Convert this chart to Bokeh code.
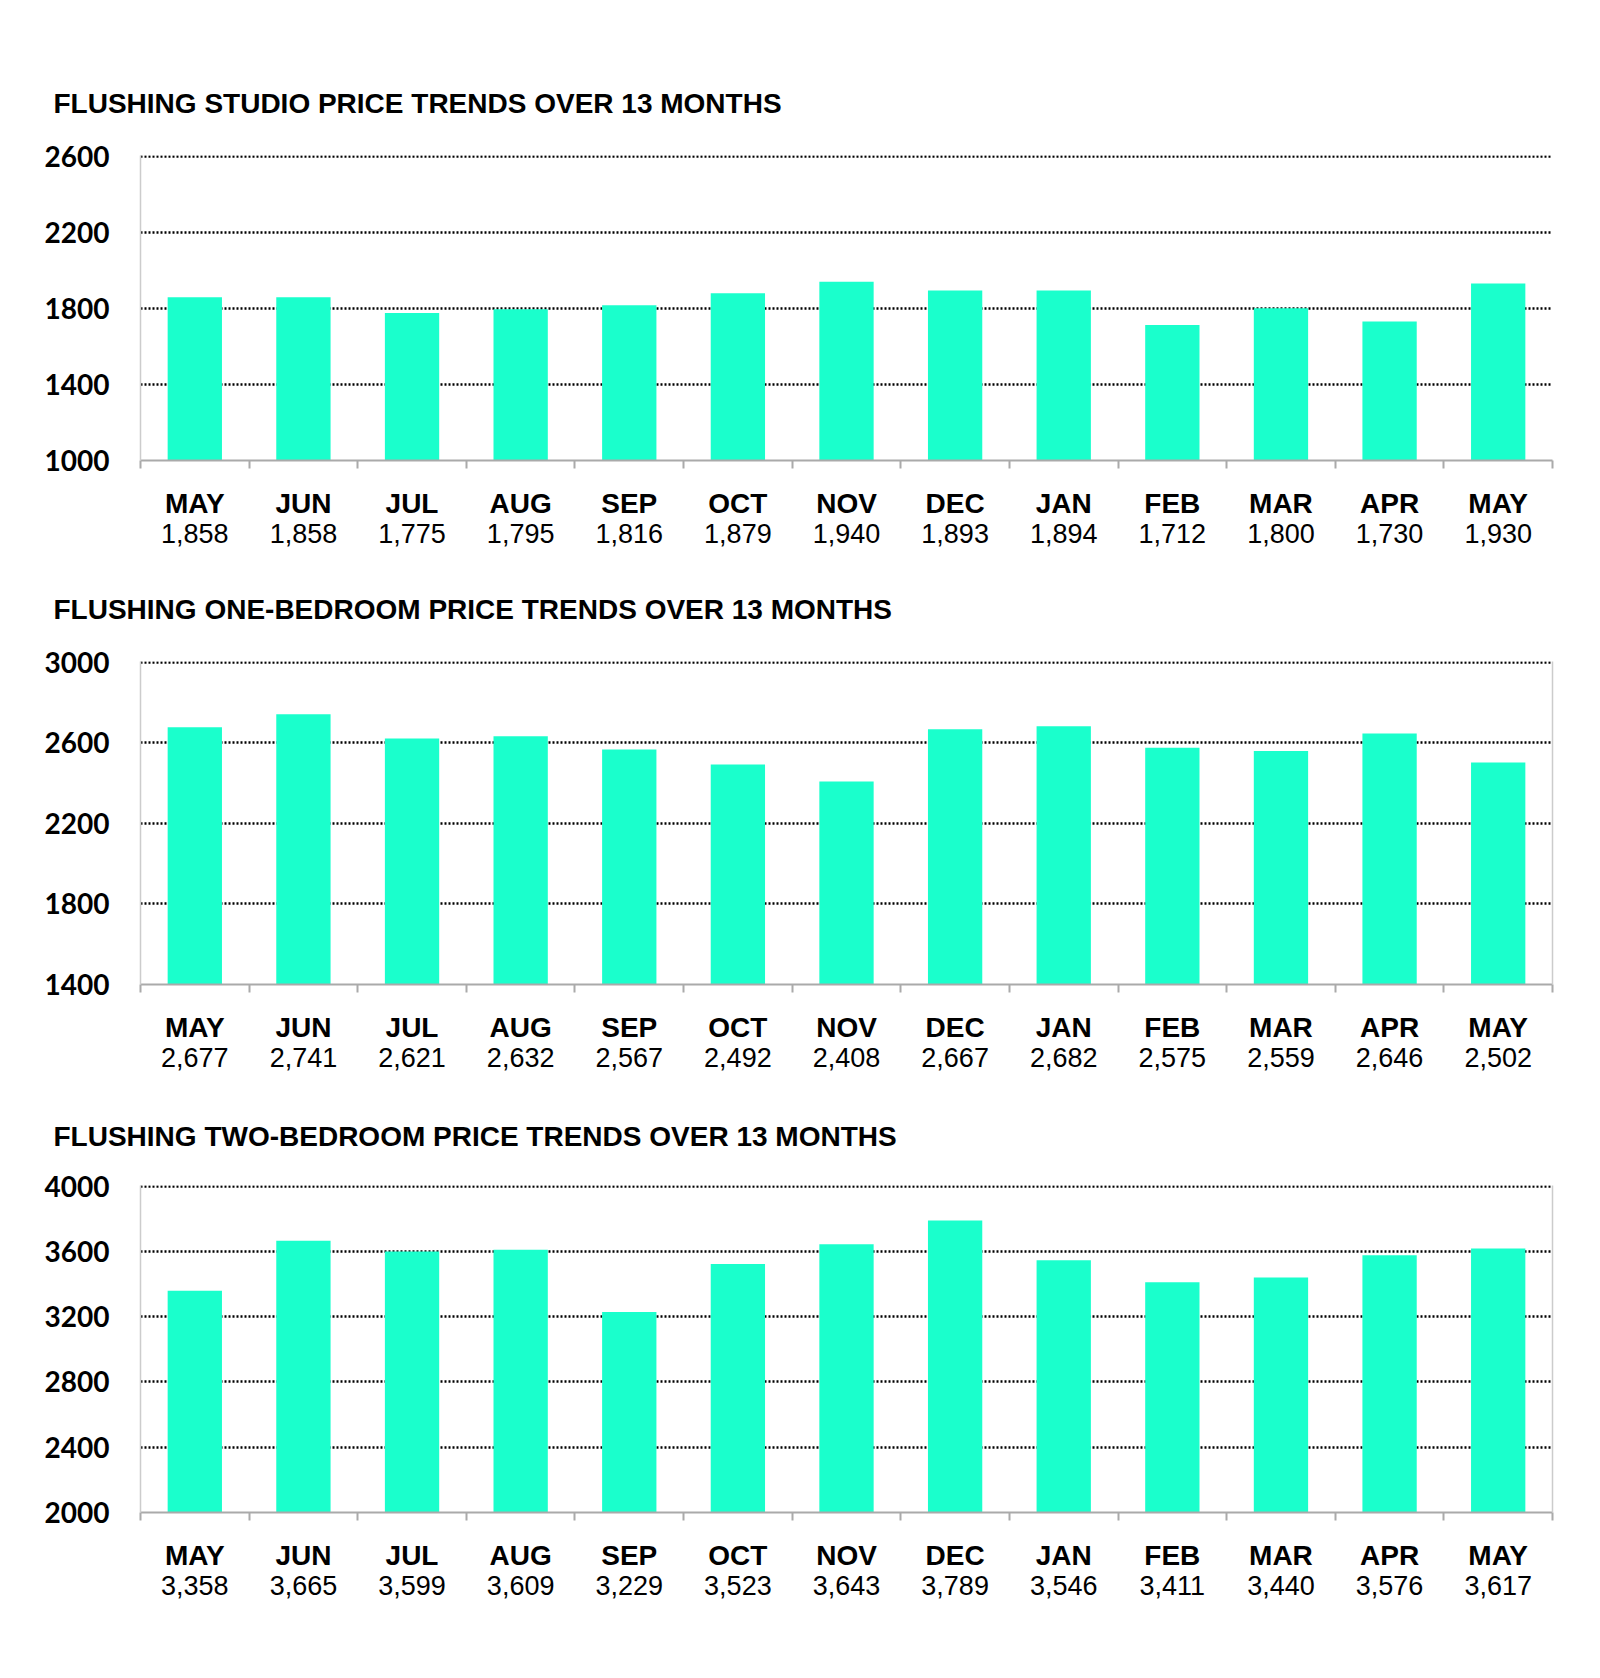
from bokeh.plotting import figure
from bokeh.models import (Range1d, LinearAxis, FixedTicker, Title, Grid, ColumnDataSource)
from bokeh.layouts import column
from bokeh.embed import file_html
from bokeh.resources import INLINE

months = ["MAY", "JUN", "JUL", "AUG", "SEP", "OCT", "NOV", "DEC", "JAN", "FEB", "MAR", "APR", "MAY"]

studio = [1858, 1858, 1775, 1795, 1816, 1879, 1940, 1893, 1894, 1712, 1800, 1730, 1930]
one_bed = [2677, 2741, 2621, 2632, 2567, 2492, 2408, 2667, 2682, 2575, 2559, 2646, 2502]
two_bed = [3358, 3665, 3599, 3609, 3229, 3523, 3643, 3789, 3546, 3411, 3440, 3576, 3617]

studio_ticks = [1000, 1400, 1800, 2200, 2600]
one_bed_ticks = [1400, 1800, 2200, 2600, 3000]
two_bed_ticks = [2000, 2400, 2800, 3200, 3600, 4000]

titles = [
    "FLUSHING STUDIO PRICE TRENDS OVER 13 MONTHS",
    "FLUSHING ONE-BEDROOM PRICE TRENDS OVER 13 MONTHS",
    "FLUSHING TWO-BEDROOM PRICE TRENDS OVER 13 MONTHS",
]

BAR = "#1AFFCC"
AXIS_GRAY = "#aaaaaa"
LIGHT_GRAY = "#cccccc"


def make(title, values, ticks, height, top, bottom, right_border, standoff):
    n = len(months)
    idx = list(range(n))
    pad = (ticks[1] - ticks[0]) * 0.008
    p = figure(x_range=Range1d(-0.5, n - 0.5),
               y_range=Range1d(ticks[0], ticks[-1] + pad),
               width=1590, height=height, output_backend="svg",
               toolbar_location=None, x_axis_location=None, y_axis_location=None,
               min_border_left=140, min_border_right=38,
               min_border_top=top, min_border_bottom=bottom)
    p.center = []
    p.outline_line_color = None
    p.background_fill_color = "white"
    p.border_fill_color = "white"

    p.title = Title(text=title, align="left", offset=-87, standoff=standoff,
                    text_font="Liberation Sans", text_font_size="28px",
                    text_font_style="bold", text_color="black")

    grid = Grid(dimension=1, ticker=FixedTicker(ticks=ticks[1:]),
                grid_line_color="black", grid_line_dash="2 2", grid_line_width=2.5)
    p.add_layout(grid)

    src = ColumnDataSource(dict(x=idx, top=values, month=months))
    p.vbar(x="x", top="top", bottom=ticks[0], width=0.5, source=src,
           fill_color=BAR, line_color=None)

    # left axis
    yax = LinearAxis(ticker=FixedTicker(ticks=ticks), major_tick_in=0, major_tick_out=0,
                     minor_tick_line_color=None, axis_line_color=LIGHT_GRAY,
                     axis_line_width=1.5, major_label_standoff=31,
                     major_label_text_font="Lato", major_label_text_font_size="28px",
                     major_label_text_font_style="bold", major_label_text_color="black")
    p.add_layout(yax, "left")

    if right_border:
        rax = LinearAxis(ticker=FixedTicker(ticks=[]), major_tick_in=0, major_tick_out=0,
                         minor_tick_line_color=None, axis_line_color=LIGHT_GRAY,
                         axis_line_width=1.5, major_label_text_font_size="1px")
        p.add_layout(rax, "right")

    # separator ticks between categories
    sep = [i - 0.5 for i in range(n + 1)]
    sax = LinearAxis(ticker=FixedTicker(ticks=sep),
                     major_tick_in=0, major_tick_out=8, major_tick_line_color=AXIS_GRAY,
                     major_tick_line_width=2, axis_line_color=AXIS_GRAY, axis_line_width=2,
                     minor_tick_line_color=None, major_label_text_font_size="1px",
                     major_label_text_alpha=0, major_label_standoff=0)
    p.add_layout(sax, "below")

    max_ = LinearAxis(ticker=FixedTicker(ticks=idx),
                      major_label_overrides={i: m for i, m in zip(idx, months)},
                      axis_line_color=None, major_tick_line_color=None,
                      minor_tick_line_color=None, major_label_standoff=13,
                      major_label_text_font="Liberation Sans",
                      major_label_text_font_size="28px",
                      major_label_text_font_style="bold",
                      major_label_text_color="black")
    p.add_layout(max_, "below")

    vax = LinearAxis(ticker=FixedTicker(ticks=idx),
                     major_label_overrides={i: f"{v:,}" for i, v in zip(idx, values)},
                     axis_line_color=None, major_tick_line_color=None,
                     minor_tick_line_color=None, major_label_standoff=-4,
                     major_label_text_font="Liberation Sans",
                     major_label_text_font_size="27px",
                     major_label_text_color="black")
    p.add_layout(vax, "below")
    return p


p1 = make(titles[0], studio, studio_ticks, 555, 155, 95, False, 73)
p2 = make(titles[1], one_bed, one_bed_ticks, 529, 105, 100, True, 73)
p3 = make(titles[2], two_bed, two_bed_ticks, 528, 100, 100, True, 68)

layout = column(p1, p2, p3, spacing=0)
open("out.html", "w").write(file_html(layout, INLINE))
